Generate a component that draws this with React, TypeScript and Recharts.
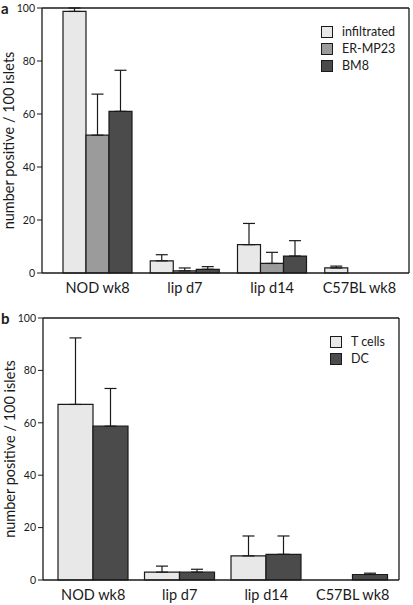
import React from 'react';
import {
  BarChart,
  Bar,
  XAxis,
  YAxis,
  ErrorBar,
  CartesianGrid
} from 'recharts';

// categories shared by both panels
const categories = ['NOD wk8', 'lip d7', 'lip d14', 'C57BL wk8'];
const yTicks = [0, 20, 40, 60, 80, 100];

// panel a
const infiltrated = [98.7, 4.6, 10.7, 1.9];
const infiltratedErr = [1.3, 2.3, 8.0, 0.7];
const erMp23 = [52, 0.8, 3.6, 0];
const erMp23Err = [15.5, 1.1, 4.2, 0];
const bm8 = [61, 1.4, 6.4, 0];
const bm8Err = [15.5, 1.0, 5.8, 0];

// panel b
const tCells = [67, 3.0, 9.2, 0];
const tCellsErr = [25.4, 2.3, 7.6, 0];
const dc = [58.7, 3.0, 9.8, 2.1];
const dcErr = [14.4, 1.1, 7.0, 0.5];

const FONT = 'Lato, "Open Sans", sans-serif';
const INK = '#1a1a1a';
const LIGHT = '#e8e8e8';
const MID = '#9b9b9b';
const DARK = '#4b4b4b';

const dataA = categories.map((name, i) => ({
  name,
  infiltrated: infiltrated[i],
  infiltratedErr: [0, infiltratedErr[i]],
  erMp23: erMp23[i],
  erMp23Err: [0, erMp23Err[i]],
  bm8: bm8[i],
  bm8Err: [0, bm8Err[i]]
}));

const dataB = categories.map((name, i) => ({
  name,
  tCells: tCells[i],
  tCellsErr: [0, tCellsErr[i]],
  dc: dc[i],
  dcErr: [0, dcErr[i]]
}));

const seriesA = [
  { key: 'infiltrated', label: 'infiltrated', fill: LIGHT },
  { key: 'erMp23', label: 'ER-MP23', fill: MID },
  { key: 'bm8', label: 'BM8', fill: DARK }
];

const seriesB = [
  { key: 'tCells', label: 'T cells', fill: LIGHT },
  { key: 'dc', label: 'DC', fill: DARK }
];

const LegendBox = ({ items, left, top }: { items: { label: string; fill: string }[]; left: number; top: number }) => (
  <div style={{ position: 'absolute', left, top, fontFamily: FONT, fontSize: 12.5, color: INK }}>
    {items.map((it) => (
      <div key={it.label} style={{ display: 'flex', alignItems: 'center', height: 17 }}>
        <span
          style={{
            width: 10,
            height: 10,
            background: it.fill,
            border: `1px solid ${INK}`,
            marginRight: 9,
            display: 'inline-block'
          }}
        />
        <span>{it.label}</span>
      </div>
    ))}
  </div>
);

const PanelLetter = ({ letter, top }: { letter: string; top: number }) => (
  <div
    style={{
      position: 'absolute',
      left: 1,
      top,
      fontFamily: FONT,
      fontWeight: 700,
      fontSize: 15,
      lineHeight: '15px',
      color: INK
    }}
  >
    {letter}
  </div>
);

const yLabel = {
  value: 'number positive / 100 islets',
  angle: -90,
  position: 'center' as const,
  dx: -12,
  style: { fontFamily: FONT, fontSize: 14.5, fill: INK }
};

const tickStyle = { fontFamily: FONT, fontSize: 10.5, fill: INK };

// top and right edges of the plot frame
const topEdge = ({ offset }: any) => [offset.top];
const rightEdge = ({ offset }: any) => [offset.left + offset.width];

const App = () => {
  return (
    <div style={{ position: 'absolute', left: 0, top: 0, width: 413, height: 605, background: '#fff' }}>
      <PanelLetter letter="a" top={1} />
      <div style={{ position: 'absolute', left: 0, top: 0 }}>
        <BarChart
          width={413}
          height={300}
          data={dataA}
          margin={{ top: 8, right: 4, bottom: 0, left: 0 }}
          barCategoryGap={9}
          barGap={0}
        >
          <CartesianGrid
            stroke={INK}
            strokeWidth={1.3}
            horizontalCoordinatesGenerator={topEdge}
            verticalCoordinatesGenerator={rightEdge}
          />
          <XAxis
            dataKey="name"
            tickLine={false}
            axisLine={{ stroke: INK, strokeWidth: 1.3 }}
            tick={{ fontFamily: FONT, fontSize: 14.5, fill: INK }}
            tickMargin={4}
            height={27}
            padding={{ left: 12, right: 6 }}
            interval={0}
          />
          <YAxis
            domain={[0, 100]}
            ticks={yTicks}
            width={42}
            tickSize={5}
            tickMargin={2}
            tickLine={{ stroke: INK }}
            axisLine={{ stroke: INK, strokeWidth: 1.3 }}
            tick={tickStyle}
            label={yLabel}
          />
          {seriesA.map((s) => (
            <Bar
              key={s.key}
              dataKey={s.key}
              name={s.label}
              fill={s.fill}
              stroke={INK}
              strokeWidth={1.2}
              isAnimationActive={false}
            >
              <ErrorBar dataKey={`${s.key}Err`} width={6} stroke={INK} strokeWidth={1.2} direction="y" />
            </Bar>
          ))}
        </BarChart>
      </div>
      <LegendBox items={seriesA} left={321} top={23} />

      <PanelLetter letter="b" top={311} />
      <div style={{ position: 'absolute', left: 0, top: 300 }}>
        <BarChart
          width={413}
          height={305}
          data={dataB}
          margin={{ top: 18, right: 14, bottom: 0, left: 0 }}
          barCategoryGap={8}
          barGap={0}
        >
          <CartesianGrid
            stroke={INK}
            strokeWidth={1.3}
            horizontalCoordinatesGenerator={topEdge}
            verticalCoordinatesGenerator={rightEdge}
          />
          <XAxis
            dataKey="name"
            tickLine={false}
            axisLine={{ stroke: INK, strokeWidth: 1.3 }}
            tick={{ fontFamily: FONT, fontSize: 14.5, fill: INK }}
            tickMargin={4}
            height={25}
            padding={{ left: 7, right: 3 }}
            interval={0}
          />
          <YAxis
            domain={[0, 100]}
            ticks={yTicks}
            width={43}
            tickSize={5}
            tickMargin={2}
            tickLine={{ stroke: INK }}
            axisLine={{ stroke: INK, strokeWidth: 1.3 }}
            tick={tickStyle}
            label={yLabel}
          />
          {seriesB.map((s) => (
            <Bar
              key={s.key}
              dataKey={s.key}
              name={s.label}
              fill={s.fill}
              stroke={INK}
              strokeWidth={1.2}
              isAnimationActive={false}
            >
              <ErrorBar dataKey={`${s.key}Err`} width={6} stroke={INK} strokeWidth={1.2} direction="y" />
            </Bar>
          ))}
        </BarChart>
      </div>
      <LegendBox items={seriesB} left={330} top={333} />
    </div>
  );
};

export default App;
